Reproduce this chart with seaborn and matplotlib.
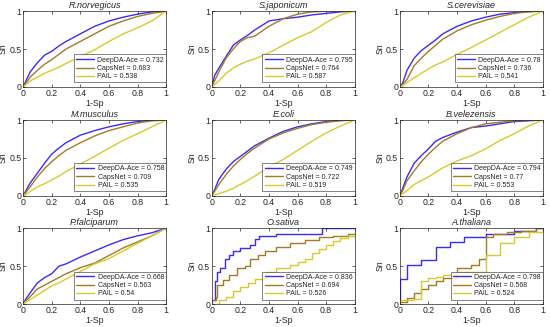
import matplotlib
matplotlib.use("Agg")
import matplotlib.pyplot as plt
import seaborn as sns
import pandas as pd

# species panels, left-to-right, top-to-bottom
species = ["R.norvegicus", "S.japonicum", "S.cerevisiae",
           "M.musculus", "E.coli", "B.velezensis",
           "P.falciparum", "O.sativa", "A.thaliana"]
methods = ["DeepDA-Ace", "CapsNet", "PAIL"]
auc = {
    "R.norvegicus": ["0.732", "0.683", "0.538"],
    "S.japonicum": ["0.795", "0.764", "0.587"],
    "S.cerevisiae": ["0.78", "0.736", "0.541"],
    "M.musculus": ["0.758", "0.709", "0.535"],
    "E.coli": ["0.749", "0.722", "0.519"],
    "B.velezensis": ["0.794", "0.77", "0.553"],
    "P.falciparum": ["0.668", "0.563", "0.54"],
    "O.sativa": ["0.836", "0.694", "0.526"],
    "A.thaliana": ["0.798", "0.568", "0.524"],
}

# shared 1-Sp grid for the smooth curves
fpr = [0, 0.02, 0.05, 0.1, 0.15, 0.2, 0.25, 0.3, 0.4, 0.5, 0.6, 0.7, 0.8, 0.9, 1.0]

rn_deep = [0, 0.08, 0.2, 0.32, 0.42, 0.47, 0.54, 0.6, 0.7, 0.8, 0.87, 0.92, 0.96, 0.99, 1]
rn_caps = [0, 0.05, 0.13, 0.22, 0.3, 0.36, 0.43, 0.5, 0.6, 0.7, 0.8, 0.87, 0.93, 0.97, 1]
rn_pail = [0, 0.03, 0.08, 0.13, 0.18, 0.22, 0.26, 0.31, 0.4, 0.49, 0.6, 0.7, 0.78, 0.87, 1]

sj_deep = [0, 0.15, 0.25, 0.4, 0.55, 0.62, 0.68, 0.75, 0.87, 0.9, 0.92, 0.95, 0.97, 0.99, 1]
sj_caps = [0, 0.08, 0.2, 0.38, 0.5, 0.6, 0.65, 0.67, 0.8, 0.9, 0.96, 0.99, 1, 1, 1]
sj_pail = [0, 0.03, 0.08, 0.18, 0.25, 0.3, 0.34, 0.37, 0.45, 0.55, 0.65, 0.73, 0.85, 0.95, 1]

sc_deep = [0, 0.05, 0.22, 0.38, 0.48, 0.55, 0.62, 0.7, 0.8, 0.87, 0.92, 0.96, 0.98, 0.995, 1]
sc_caps = [0, 0.03, 0.1, 0.28, 0.38, 0.47, 0.55, 0.63, 0.74, 0.82, 0.88, 0.93, 0.97, 0.99, 1]
sc_pail = [0, 0.02, 0.06, 0.12, 0.18, 0.24, 0.29, 0.33, 0.43, 0.52, 0.62, 0.72, 0.82, 0.92, 1]

mm_deep = [0, 0.07, 0.17, 0.3, 0.43, 0.55, 0.63, 0.7, 0.8, 0.86, 0.91, 0.95, 0.98, 0.995, 1]
mm_caps = [0, 0.05, 0.12, 0.25, 0.36, 0.45, 0.53, 0.6, 0.7, 0.79, 0.86, 0.91, 0.96, 0.99, 1]
mm_pail = [0, 0.02, 0.06, 0.12, 0.16, 0.21, 0.26, 0.32, 0.42, 0.52, 0.63, 0.73, 0.82, 0.91, 1]

ec_deep = [0, 0.08, 0.22, 0.35, 0.45, 0.52, 0.59, 0.66, 0.76, 0.85, 0.91, 0.95, 0.98, 0.995, 1]
ec_caps = [0, 0.06, 0.15, 0.28, 0.39, 0.48, 0.56, 0.63, 0.75, 0.83, 0.89, 0.94, 0.97, 0.99, 1]
ec_pail = [0, 0.01, 0.03, 0.06, 0.1, 0.15, 0.2, 0.26, 0.38, 0.48, 0.6, 0.72, 0.83, 0.92, 1]

bv_deep = [0, 0.1, 0.25, 0.43, 0.53, 0.62, 0.72, 0.77, 0.84, 0.9, 0.92, 0.95, 0.98, 0.99, 1]
bv_caps = [0, 0.07, 0.2, 0.33, 0.45, 0.55, 0.64, 0.72, 0.82, 0.9, 0.95, 0.97, 0.99, 1, 1]
bv_pail = [0, 0.03, 0.07, 0.15, 0.2, 0.25, 0.31, 0.37, 0.46, 0.53, 0.62, 0.73, 0.82, 0.92, 1]

pf_deep = [0, 0.07, 0.15, 0.28, 0.35, 0.4, 0.5, 0.53, 0.62, 0.7, 0.78, 0.85, 0.9, 0.94, 1]
pf_caps = [0, 0.04, 0.1, 0.2, 0.25, 0.3, 0.35, 0.4, 0.48, 0.54, 0.64, 0.74, 0.82, 0.9, 1]
pf_pail = [0, 0.03, 0.06, 0.12, 0.18, 0.24, 0.28, 0.33, 0.43, 0.53, 0.6, 0.7, 0.8, 0.9, 1]

# step curves (few samples)
os_deep_x = [0, 0.02, 0.04, 0.06, 0.09, 0.12, 0.15, 0.2, 0.27, 0.3, 0.33, 0.45, 0.77, 1]
os_deep_y = [0.05, 0.3, 0.42, 0.47, 0.6, 0.65, 0.7, 0.74, 0.78, 0.86, 0.9, 0.93, 1.0, 1.0]
os_caps_x = [0, 0.03, 0.04, 0.08, 0.12, 0.18, 0.23, 0.27, 0.32, 0.37, 0.45, 0.55, 0.65, 0.75, 0.85, 0.95, 1]
os_caps_y = [0.05, 0.1, 0.25, 0.32, 0.38, 0.48, 0.5, 0.6, 0.65, 0.7, 0.75, 0.8, 0.85, 0.88, 0.9, 0.93, 0.95]
os_pail_x = [0, 0.05, 0.1, 0.15, 0.2, 0.25, 0.3, 0.38, 0.45, 0.55, 0.6, 0.65, 0.7, 0.75, 0.8, 0.85, 0.9, 0.95, 1]
os_pail_y = [0, 0.05, 0.1, 0.17, 0.22, 0.28, 0.33, 0.42, 0.48, 0.52, 0.55, 0.6, 0.68, 0.72, 0.78, 0.83, 0.87, 0.9, 0.95]

at_deep_x = [0, 0.0, 0.05, 0.15, 0.25, 0.35, 0.45, 0.6, 0.8, 0.95, 1]
at_deep_y = [0.03, 0.33, 0.52, 0.58, 0.75, 0.82, 0.88, 0.93, 0.97, 1.0, 1.0]
at_caps_x = [0, 0.05, 0.1, 0.15, 0.2, 0.25, 0.3, 0.4, 0.5, 0.55, 0.6, 0.65, 0.75, 0.85, 0.95, 1]
at_caps_y = [0.03, 0.08, 0.15, 0.2, 0.25, 0.3, 0.35, 0.48, 0.52, 0.6, 0.88, 0.92, 0.95, 0.97, 1.0, 1.0]
at_pail_x = [0, 0.1, 0.15, 0.2, 0.25, 0.3, 0.4, 0.5, 0.6, 0.7, 0.8, 0.9, 1]
at_pail_y = [0.05, 0.07, 0.3, 0.35, 0.36, 0.38, 0.42, 0.42, 0.65, 0.8, 0.88, 0.95, 0.97]

curves = {
    "R.norvegicus": [(fpr, rn_deep), (fpr, rn_caps), (fpr, rn_pail)],
    "S.japonicum": [(fpr, sj_deep), (fpr, sj_caps), (fpr, sj_pail)],
    "S.cerevisiae": [(fpr, sc_deep), (fpr, sc_caps), (fpr, sc_pail)],
    "M.musculus": [(fpr, mm_deep), (fpr, mm_caps), (fpr, mm_pail)],
    "E.coli": [(fpr, ec_deep), (fpr, ec_caps), (fpr, ec_pail)],
    "B.velezensis": [(fpr, bv_deep), (fpr, bv_caps), (fpr, bv_pail)],
    "P.falciparum": [(fpr, pf_deep), (fpr, pf_caps), (fpr, pf_pail)],
    "O.sativa": [(os_deep_x, os_deep_y), (os_caps_x, os_caps_y), (os_pail_x, os_pail_y)],
    "A.thaliana": [(at_deep_x, at_deep_y), (at_caps_x, at_caps_y), (at_pail_x, at_pail_y)],
}
step_panels = ["O.sativa", "A.thaliana"]

colors = ["#3a2cf0", "#a57a26", "#d9c92e"]

sns.set_theme(style="white")
plt.rcParams["font.family"] = ["Liberation Sans", "DejaVu Sans"]

fig = plt.figure(figsize=(5.5, 3.27), dpi=100)

lefts = [0.042, 0.385, 0.727]
bottoms = [0.734, 0.401, 0.070]
w, h = 0.26, 0.232

for i, sp in enumerate(species):
    r, c = divmod(i, 3)
    ax = fig.add_axes([lefts[c], bottoms[r], w, h])
    for k, (xs, ys) in enumerate(curves[sp]):
        df = pd.DataFrame({"x": xs, "y": ys})
        kw = {"drawstyle": "steps-post"} if sp in step_panels else {}
        sns.lineplot(data=df, x="x", y="y", ax=ax, estimator=None, sort=False,
                     color=colors[k], lw=1.0,
                     label=f"{methods[k]} = {auc[sp][k]}", **kw)
    ax.set_xlim(0, 1)
    ax.set_ylim(0, 1)
    ax.set_xticks([0, 0.2, 0.4, 0.6, 0.8, 1])
    ax.set_xticklabels(["0", "0.2", "0.4", "0.6", "0.8", "1"])
    ax.set_yticks([0, 0.5, 1])
    ax.set_yticklabels(["0", "0.5", "1"])
    ax.tick_params(direction="in", length=2, width=0.5, labelsize=6.3, pad=1.2,
                   colors="#262626", top=True, right=True, bottom=True, left=True)
    for s in ax.spines.values():
        s.set_linewidth(0.5)
        s.set_color("#262626")
    ax.set_xlabel("1-Sp", fontsize=6.3, labelpad=1)
    ax.set_ylabel("Sn", fontsize=6.3)
    ax.yaxis.set_label_coords(-0.105, 0.5)
    ax.set_title(sp, fontsize=6.5, style="italic", pad=2)
    leg = ax.legend(loc="lower right", bbox_to_anchor=(1.0, 0.06), fontsize=5,
                    frameon=True, fancybox=False, borderaxespad=0,
                    handlelength=2.6, handletextpad=0.5,
                    borderpad=0.3, labelspacing=0.2)
    leg.get_frame().set_edgecolor("#262626")
    leg.get_frame().set_linewidth(0.5)

fig.savefig("out.png", dpi=100)
